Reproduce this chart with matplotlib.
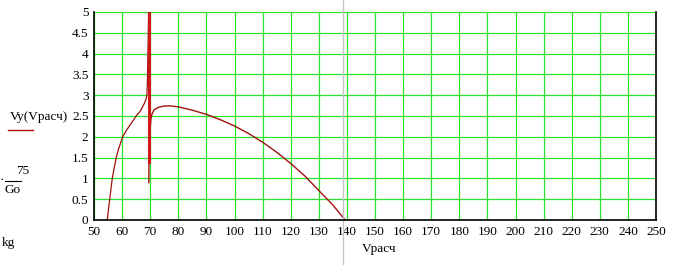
import numpy as np
import matplotlib
matplotlib.use('Agg')
import matplotlib.pyplot as plt

# Vy(Vрасч) * 75/Go
v_left = [54.7, 55.6, 56.5, 57.9, 58.8, 60.2, 61.5, 63.0, 65.0, 66.5, 67.9, 68.5, 68.8, 69.0]
vy_left = [0.0, 0.5, 1.0, 1.5, 1.72, 2.0, 2.15, 2.3, 2.5, 2.62, 2.8, 2.9, 3.0, 3.28]

v_pole = [69.5, 69.5]
vy_pole = [5.2, 1.4]

v_right = [69.5, 69.55, 69.7, 69.85, 70.0, 70.3, 70.7, 71.4, 73.0, 75.0, 77.0, 80.0, 85.0, 90.0,
           95.0, 100.0, 105.0, 110.0, 115.0, 120.0, 125.0, 130.0, 135.0, 139.4]
vy_right = [0.9, 1.3, 1.6, 1.95, 2.2, 2.45, 2.56, 2.65, 2.71, 2.74, 2.745, 2.72, 2.64, 2.54,
            2.41, 2.26, 2.08, 1.87, 1.63, 1.36, 1.06, 0.71, 0.36, 0.0]

marker_v = 138.6

xticks = np.arange(50, 251, 10)
yticks = np.arange(0, 5.01, 0.5)
ytick_labels = ['0', '0.5', '1', '1.5', '2', '2.5', '3', '3.5', '4', '4.5', '5']

plt.rcParams['font.family'] = ['Liberation Serif', 'DejaVu Serif']

fig = plt.figure(figsize=(6.83, 2.65), dpi=100)
ax = fig.add_axes([94 / 683, 45 / 265, 562 / 683, 208 / 265])

ax.set_xlim(50, 250)
ax.set_ylim(0, 5)
ax.set_xticks(xticks)
ax.set_yticks(yticks)
ax.set_yticklabels(ytick_labels)
ax.grid(True, color='#2ee02e', linewidth=0.9)
ax.set_axisbelow(True)
ax.tick_params(length=0, labelsize=9.5, pad=4)
for s in ['left', 'bottom', 'right']:
    ax.spines[s].set_color('black')
    ax.spines[s].set_linewidth(1.2)
ax.spines['top'].set_visible(False)

curve = '#a01010'
ax.plot(v_left, vy_left, color=curve, lw=0.9)
ax.plot([v_left[-1], v_pole[0]], [vy_left[-1], vy_pole[0]], color=curve, lw=0.9)
ax.plot(v_right, vy_right, color=curve, lw=1.0)
ax.plot(v_pole, vy_pole, color='#d01818', lw=2.2)

ax.axvline(marker_v, ymin=-0.22, ymax=1.06, color='#c4c4c4', lw=1, clip_on=False)

fs = 9.5
fig.text(10 / 683, 1 - 117 / 265, 'Vy(Vрасч)', fontsize=fs, va='center', ha='left')
fig.add_artist(plt.Line2D([8 / 683, 33 / 683], [1 - 130 / 265] * 2, color='#b01010', lw=1))
fig.text(23 / 683, 1 - 171 / 265, '75', fontsize=fs, va='center', ha='center')
fig.add_artist(plt.Line2D([5 / 683, 21 / 683], [1 - 181 / 265] * 2, color='black', lw=0.8))
fig.text(2 / 683, 1 - 180 / 265, '·', fontsize=fs, va='center', ha='center')
fig.text(13 / 683, 1 - 190 / 265, 'Go', fontsize=fs, va='center', ha='center')
fig.text(2 / 683, 1 - 243 / 265, 'kg', fontsize=fs, va='center', ha='left')
fig.text(379 / 683, 1 - 249 / 265, 'Vрасч', fontsize=fs, va='center', ha='center')

fig.savefig('out.png', dpi=100)
